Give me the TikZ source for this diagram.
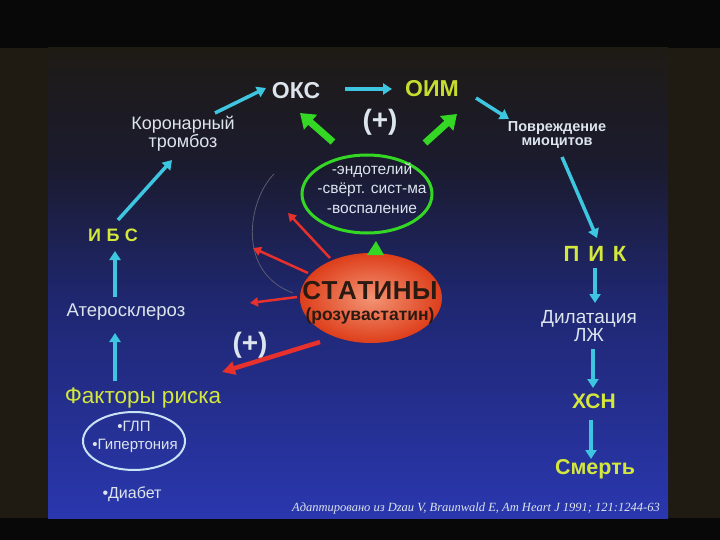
\documentclass[tikz,border=0pt]{standalone}
\usepackage{fontspec}
\setmainfont{Liberation Sans}
\newfontfamily\citefont{Liberation Serif}
\usetikzlibrary{arrows.meta,calc,shapes.geometric}
\definecolor{cy}{HTML}{3EC6E0}
\definecolor{yl}{HTML}{D4E83C}
\definecolor{ylb}{HTML}{C8DC30}
\definecolor{wt}{HTML}{DCE4EE}
\definecolor{gr}{HTML}{34D824}
\definecolor{rd}{HTML}{E8302C}
\definecolor{bgbrown}{HTML}{1F1B13}
\definecolor{ca}{HTML}{1E1B15}
\definecolor{cb}{HTML}{1B1B30}
\definecolor{cc}{HTML}{1F2770}
\definecolor{cd}{HTML}{2A37AE}
\definecolor{stin}{HTML}{F29474}
\definecolor{stout}{HTML}{DE3E1A}
\definecolor{sttxt}{HTML}{2A1A12}
\definecolor{ellblue}{HTML}{C8E4F4}
\definecolor{arcgrey}{HTML}{5A5C70}
\begin{document}
\begin{tikzpicture}[x=1pt,y=-1pt,
  txt/.style={text=wt, inner sep=0pt, align=center},
  ytxt/.style={text=yl, inner sep=0pt, align=center},
  cyarr/.style={draw=cy, line width=3.5pt, -{Triangle[length=9pt,width=11pt]}},
  grarr/.style={draw=gr, line width=7pt, -{Triangle[length=14pt,width=19pt]}},
  rdarr/.style={draw=rd, line width=2.5pt, -{Triangle[length=8pt,width=9pt]}},
  rdthick/.style={draw=rd, line width=4.5pt, -{Triangle[length=13pt,width=13pt]}},
  fbig/.style={font=\fontsize{23}{25}\selectfont\bfseries},
  fmid/.style={font=\fontsize{18.5}{18}\selectfont},
  fsmall/.style={font=\fontsize{15}{16}\selectfont}]
\useasboundingbox (0,0) rectangle (720,540);
% background
\fill[black!97] (0,0) rectangle (720,540);
\fill[bgbrown] (0,48) rectangle (720,518);
\shade[top color=ca,bottom color=cb] (48,48) rectangle (668,171);
\shade[top color=cb,bottom color=cc] (48,170) rectangle (668,301);
\shade[top color=cc,bottom color=cd] (48,300) rectangle (668,518);

% nodes
\node[txt,fbig] (oks) at (296,91) {ОКС};
\node[text=ylb,inner sep=0pt,fbig] (oim) at (432,89) {ОИМ};
\node[txt,font=\fontsize{14.5}{14.5}\selectfont\bfseries] (povr) at (557,135) {Повреждение\\миоцитов};
\node[ytxt,font=\fontsize{22}{24}\selectfont\bfseries] (pik) at (595,254) {П\hspace{0.4em}И\hspace{0.4em}К};
\node[txt,font=\fontsize{19}{18}\selectfont] (dilat) at (589,326) {Дилатация\\ЛЖ};
\node[ytxt,font=\fontsize{21}{23}\selectfont\bfseries] (xsn) at (594,401) {ХСН};
\node[ytxt,font=\fontsize{21.5}{23}\selectfont\bfseries] (death) at (595,469) {Смерть};

\node[txt,font=\fontsize{18}{15.5}\selectfont] (koron) at (183,134) {Коронарный\\тромбоз};
\node[ytxt,font=\fontsize{18}{20}\selectfont\bfseries] (ibs) at (113,235) {И\hspace{0.3em}Б\hspace{0.3em}С};
\node[txt,fmid] (ater) at (126,312) {Атеросклероз};
\node[ytxt,font=\fontsize{22.5}{24}\selectfont] (risk) at (143,398) {Факторы риска};
\node[ellipse,draw=ellblue,line width=2pt,minimum width=102pt,minimum height=58pt,inner sep=0pt] (riskell) at (134,441) {};
\node[txt,fsmall] (glp) at (134,426) {•ГЛП};
\node[txt,fsmall] (gip) at (135,446) {•Гипертония};
\node[txt,font=\fontsize{16}{18}\selectfont] (diab) at (132,494) {•Диабет};

\node[txt,font=\fontsize{28}{30}\selectfont\bfseries] (plus1) at (380,122) {(+)};
\node[ellipse,draw=gr,line width=3pt,minimum width=130pt,minimum height=78pt,inner sep=0pt] (greenell) at (367,194) {};
\node[txt,font=\fontsize{15.5}{19.5}\selectfont] (greentxt) at (372,188) {-эндотелий\\-свёрт. сист-ма\\-воспаление};

\node[ellipse,inner color=stin,outer color=stout,minimum width=142pt,minimum height=90pt,inner sep=0pt] (statin) at (371,298) {};
\node[text=sttxt,inner sep=0pt,font=\fontsize{26}{28}\selectfont\bfseries] (statintxt) at (370,291) {С\kern0.5ptТ\kern0.5ptА\kern0.5ptТ\kern0.5ptИ\kern0.5ptН\kern0.5ptЫ};
\node[text=sttxt,inner sep=0pt,font=\fontsize{17.5}{19}\selectfont\bfseries] (rozu) at (370,316) {(розувастатин)};
\node[txt,font=\fontsize{28}{30}\selectfont\bfseries] (plus2) at (250,345) {(+)};

\node[text=wt,inner sep=0pt,font=\citefont\itshape\fontsize{12.5}{14}\selectfont] (cite) at (476,508) {Адаптировано из Dzau V, Braunwald E, Am Heart J 1991; 121:1244-63};

% cyan chain
\draw[cyarr] ($(oks)+(49,-2)$) -- ($(oim)+(-40,0)$);
\draw[cyarr] ($(oim)+(44,9)$) -- ($(povr)+(-48,-16)$);
\draw[cyarr] ($(povr)+(5,22)$) -- ($(pik)+(2,-16)$);
\draw[cyarr] ($(pik)+(0,14)$) -- ($(dilat)+(6,-23)$);
\draw[cyarr] ($(dilat)+(4,23)$) -- ($(xsn)+(-1,-13)$);
\draw[cyarr] ($(xsn)+(-3,19)$) -- ($(death)+(-4,-10)$);
\draw[cyarr] ($(risk)+(-28,-17)$) -- ($(ater)+(-11,21)$);
\draw[cyarr] ($(ater)+(-11,-15)$) -- ($(ibs)+(2,16)$);
\draw[cyarr] ($(ibs)+(5,-15)$) -- ($(koron)+(-11,26)$);
\draw[cyarr] ($(koron)+(32,-21)$) -- ($(oks)+(-30,-3)$);

% green
\draw[grarr] ($(greenell)+(-34,-52)$) -- ($(oks)+(4,22)$);
\draw[grarr] ($(greenell)+(58,-51)$) -- ($(oim)+(25,25)$);
\fill[gr] ($(statin)+(-4,-43)$) -- ($(statin)+(13,-43)$) -- ($(statin)+(5,-57)$) -- cycle;

% grey arc
\draw[arcgrey,line width=0.8pt] (274,174) .. controls (248,200) and (236,272) .. (293,293);

% red arrows
\draw[rdarr] ($(statin)+(-41,-40)$) -- ($(statin)+(-83,-85)$);
\draw[rdarr] ($(statin)+(-63,-25)$) -- ($(statin)+(-118,-50)$);
\draw[rdarr] ($(statin)+(-74,-1)$) -- ($(statin)+(-121,5)$);
\draw[rdthick] ($(statin)+(-51,44)$) -- ($(statin)+(-149,74)$);
\end{tikzpicture}
\end{document}
